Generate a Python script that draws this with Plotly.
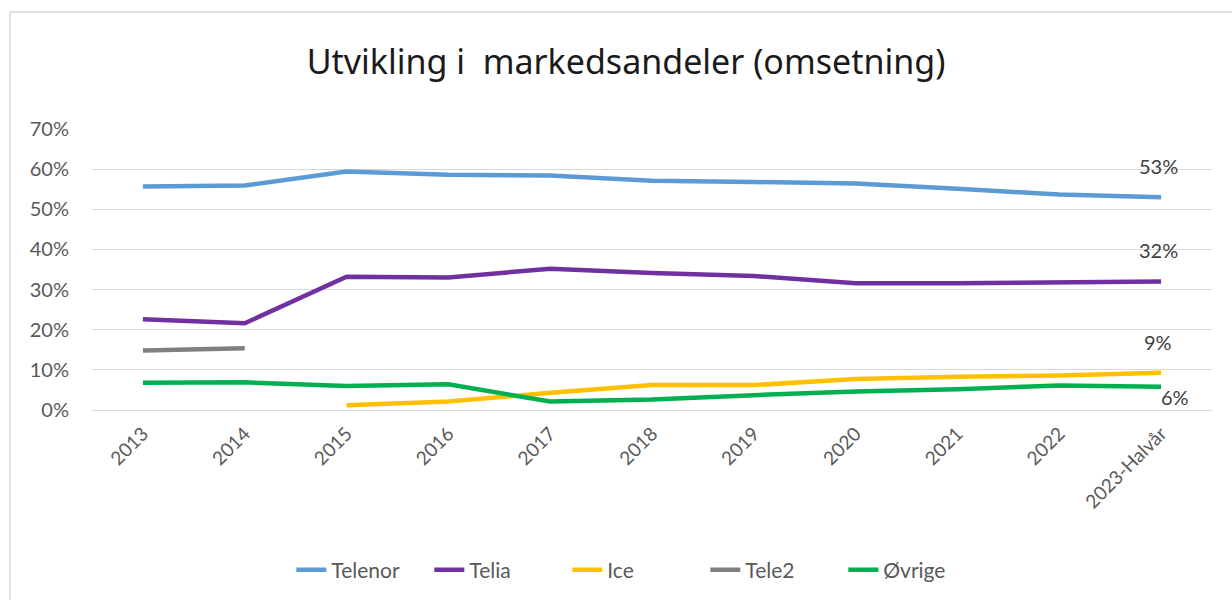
import plotly.graph_objects as go

categories = ["2013", "2014", "2015", "2016", "2017", "2018", "2019", "2020", "2021", "2022", "2023-Halvår"]
telenor = [0.557, 0.559, 0.594, 0.586, 0.584, 0.571, 0.568, 0.564, 0.551, 0.537, 0.53]
telia = [0.226, 0.216, 0.332, 0.330, 0.352, 0.341, 0.334, 0.316, 0.316, 0.317, 0.32]
ice = [None, None, 0.012, 0.021, 0.043, 0.062, 0.062, 0.077, 0.083, 0.086, 0.093]
tele2 = [0.148, 0.154, None, None, None, None, None, None, None, None, None]
ovrige = [0.068, 0.069, 0.060, 0.064, 0.021, 0.026, 0.037, 0.046, 0.052, 0.061, 0.058]

series_names = ["Telenor", "Telia", "Ice", "Tele2", "Øvrige"]
series_values = [telenor, telia, ice, tele2, ovrige]
series_colors = ["#5B9BD5", "#7030A0", "#FFC000", "#808080", "#00B050"]

# end-of-line data labels: (series index, xshift, yshift)
end_labels = [(0, -3, 31), (1, -3, 32), (2, -3, 31), (4, 14, -10)]

fig = go.Figure()
for name, vals, col in zip(series_names, series_values, series_colors):
    fig.add_trace(go.Scatter(
        x=categories, y=vals, name=name, mode="lines",
        line=dict(color=col, width=4.5), connectgaps=False,
        hoverinfo="skip",
    ))

for idx, xs, ys in end_labels:
    v = series_values[idx][-1]
    fig.add_annotation(
        x=categories[-1], y=v, xref="x", yref="y",
        text=f"{round(v * 100)}%", showarrow=False,
        xshift=xs, yshift=ys,
        font=dict(family="Lato", size=20, color="#404040"),
    )

# chart border
fig.add_shape(type="rect", xref="paper", yref="paper",
              x0=-82 / 1120, x1=1.2, y0=-1.0, y1=(410 - 12) / 281,
              line=dict(color="#d9d9d9", width=1.5), layer="below")

fig.update_layout(
    width=1232, height=600,
    margin=dict(l=92, r=20, t=129, b=190, autoexpand=False),
    paper_bgcolor="white", plot_bgcolor="white",
    title=dict(text="Utvikling i  markedsandeler (omsetning)",
               x=626 / 1232, xanchor="center", xref="container",
               y=1 - 62 / 600, yanchor="middle", yref="container",
               font=dict(family="Noto Sans", size=34, color="#1a1a1a")),
    font=dict(family="Lato", color="#595959"),
    showlegend=True,
    legend=dict(orientation="h", x=0.486, xanchor="center", y=-0.57, yanchor="middle",
                font=dict(family="Lato", size=21, color="#595959"),
                itemwidth=30, entrywidth=93, entrywidthmode="pixels",
                traceorder="normal"),
    xaxis=dict(type="category", tickangle=-45, showgrid=False, showline=False,
               ticks="", tickfont=dict(family="Lato", size=19, color="#595959"),
               ticklabelstandoff=8,
               range=[-0.5, len(categories) - 0.5]),
    yaxis=dict(range=[0, 0.7], dtick=0.1, tickformat=".0%", showgrid=True,
               gridcolor="#d9d9d9", gridwidth=1.3, zeroline=True, zerolinecolor="#d9d9d9",
               zerolinewidth=1.3, showline=False, ticks="",
               tickfont=dict(family="Lato", size=20, color="#595959"),
               ticklabelstandoff=22),
)

fig.write_html("out.html", post_script="document.body.style.margin='0';",
               config={"displayModeBar": False})
